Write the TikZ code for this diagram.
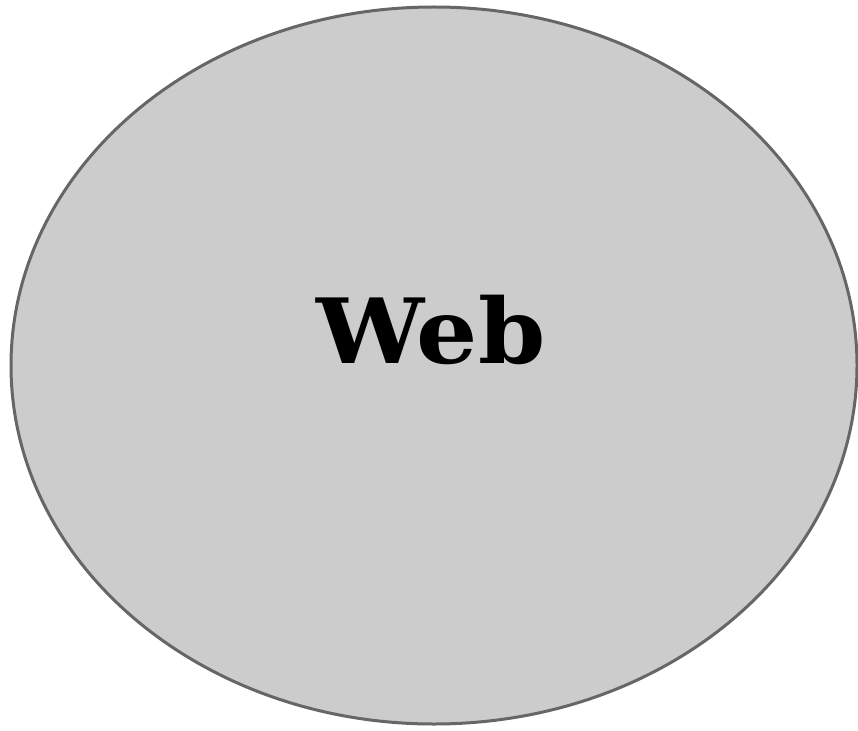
\documentclass[tikz,border=0pt]{standalone}
\usepackage{fontspec}
\newfontfamily\webfont{DejaVu Serif}
\definecolor{ellfill}{HTML}{CCCCCC}
\definecolor{ellline}{HTML}{666666}
\begin{document}
\begin{tikzpicture}[x=1pt,y=-1pt,
  webellipse/.style={draw=ellline,fill=ellfill,line width=3pt}]
\useasboundingbox (0,0) rectangle (858,730);
\draw[webellipse] (434,365.5) ellipse [x radius=423, y radius=358.5];
\node[inner sep=0pt,anchor=base,xscale=1.07] (web) at (431,363) {\webfont\bfseries\fontsize{90}{100}\selectfont Web};
\end{tikzpicture}
\end{document}
